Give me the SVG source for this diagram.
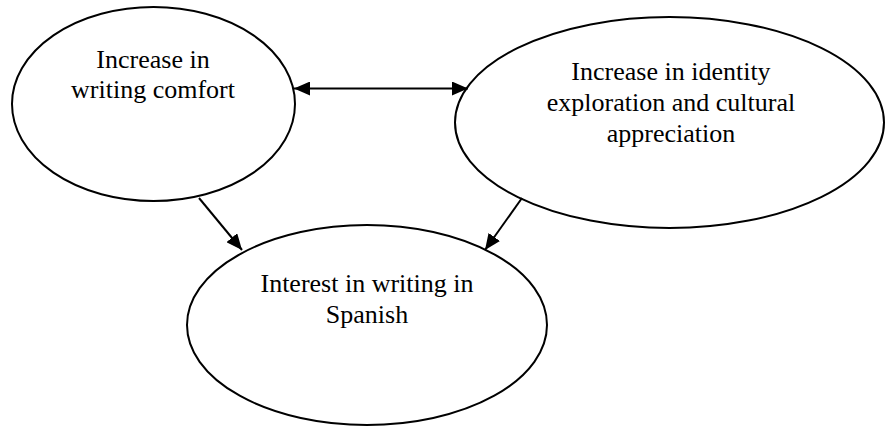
<svg xmlns="http://www.w3.org/2000/svg" width="885" height="427" viewBox="0 0 885 427">
<defs>
<style>
.node ellipse{fill:#fff;stroke:#000;stroke-width:2}
.node text{font-family:"Liberation Serif","Times New Roman",serif;font-size:26px;fill:#000;text-anchor:middle}
.conn line{stroke:#000;stroke-width:2}
</style>
<marker id="ah2" viewBox="0 0 16 14" refX="16" refY="7" markerWidth="16" markerHeight="14" markerUnits="userSpaceOnUse" orient="auto-start-reverse">
<path d="M0,0 L16,7 L0,14 z" fill="#000"/>
</marker>
</defs>
<rect width="885" height="427" fill="#fff"/>
<g id="n1" class="node">
<ellipse cx="153.5" cy="104" rx="141.5" ry="97"/>
<text x="153" y="68">Increase in</text>
<text x="153" y="98">writing comfort</text>
</g>
<g id="n2" class="node">
<ellipse cx="669.5" cy="122.5" rx="214.5" ry="105.5"/>
<text x="671" y="80">Increase in identity</text>
<text x="671" y="111">exploration and cultural</text>
<text x="671" y="142">appreciation</text>
</g>
<g id="n3" class="node">
<ellipse cx="367" cy="325" rx="180" ry="100"/>
<text x="367" y="292">Interest in writing in</text>
<text x="367" y="323">Spanish</text>
</g>
<g id="connectors" class="conn">
<line x1="294" y1="88.5" x2="468" y2="88.5" marker-start="url(#ah2)" marker-end="url(#ah2)"/>
<line x1="199" y1="198" x2="242" y2="250" marker-end="url(#ah2)"/>
<line x1="522" y1="198" x2="485" y2="250" marker-end="url(#ah2)"/>
</g>
</svg>
